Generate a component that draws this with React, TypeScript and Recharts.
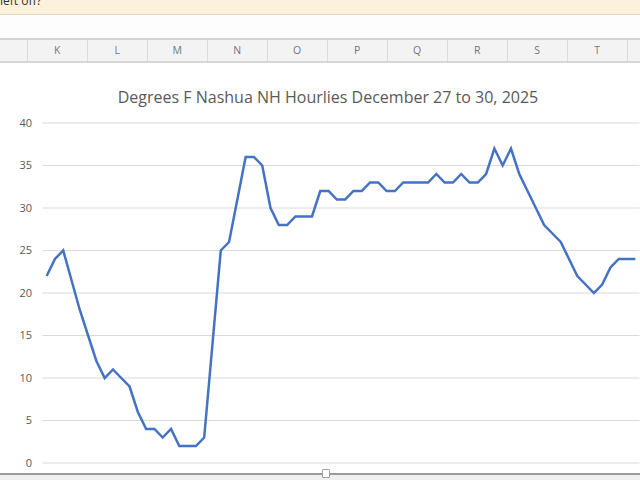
import React from "react";
import { LineChart, Line, XAxis, YAxis, CartesianGrid } from "recharts";

const TITLE = "Degrees F Nashua NH Hourlies December 27 to 30, 2025";
const COLUMNS = ["K", "L", "M", "N", "O", "P", "Q", "R", "S", "T"];
const Y_TICKS = [0, 5, 10, 15, 20, 25, 30, 35, 40];
const TEMPS = [
  22, 24, 25, 21.5, 18, 15, 12, 10, 11, 10, 9, 6, 4, 4, 3, 4, 2, 2, 2, 3,
  14, 25, 26, 31, 36, 36, 35, 30, 28, 28, 29, 29, 29, 32, 32, 31, 31, 32, 32, 33,
  33, 32, 32, 33, 33, 33, 33, 34, 33, 33, 34, 33, 33, 34, 37, 35, 37, 34, 32, 30,
  28, 27, 26, 24, 22, 21, 20, 21, 23, 24, 24, 24,
];

const data = TEMPS.map((t, i) => ({ hour: i, temp: t }));

const FONT = "'Open Sans', 'Noto Sans', sans-serif";

export default function App() {
  return (
    <div
      style={{
        position: "absolute",
        left: 0,
        top: 0,
        width: 640,
        height: 480,
        overflow: "hidden",
        background: "#ffffff",
        fontFamily: FONT,
      }}
    >
      {/* notification banner */}
      <div
        style={{
          position: "absolute",
          left: 0,
          top: 0,
          width: 640,
          height: 14,
          background: "#FBF1DC",
          borderBottom: "1px solid #E2D5BC",
        }}
      />
      <div
        style={{
          position: "absolute",
          left: 0,
          top: -7,
          fontSize: 12,
          lineHeight: "16px",
          color: "#333",
          whiteSpace: "nowrap",
        }}
      >
        left off?
      </div>
      {/* formula/blank strip */}
      <div
        style={{
          position: "absolute",
          left: 0,
          top: 15,
          width: 640,
          height: 24,
          background: "#FDFDFD",
        }}
      />
      {/* column header row */}
      <div
        style={{
          position: "absolute",
          left: 0,
          top: 38,
          width: 640,
          height: 21,
          background: "#F3F3F3",
          borderTop: "2px solid #D4D4D4",
          borderBottom: "2px solid #D6D6D6",
        }}
      />
      {COLUMNS.map((c, i) => (
        <div
          key={c}
          style={{
            position: "absolute",
            left: 26.7 + i * 60,
            top: 40,
            width: 60,
            height: 21,
            borderLeft: "1px solid #DADADA",
            boxSizing: "border-box",
            textAlign: "center",
            lineHeight: "21px",
            fontSize: 10.5,
            color: "#767676",
          }}
        >
          {c}
        </div>
      ))}
      <div
        style={{
          position: "absolute",
          left: 626.7,
          top: 40,
          width: 1,
          height: 21,
          background: "#DADADA",
        }}
      />
      {/* title */}
      <div
        style={{
          position: "absolute",
          left: 0,
          top: 86,
          width: 656,
          textAlign: "center",
          fontSize: 16,
          color: "#595959",
          whiteSpace: "nowrap",
        }}
      >
        {TITLE}
      </div>
      {/* chart */}
      <div style={{ position: "absolute", left: 0, top: 0 }}>
        <LineChart
          width={640}
          height={480}
          data={data}
          margin={{ top: 123, right: 0.5, bottom: 17, left: 0 }}
        >
          <CartesianGrid
            vertical={false}
            stroke="#D9D9D9"
            strokeWidth={1}
          />
          <XAxis
            dataKey="hour"
            type="number"
            domain={[-0.5, 71.5]}
            hide
            height={0}
          />
          <YAxis
            width={42.5}
            domain={[0, 40]}
            ticks={Y_TICKS}
            axisLine={false}
            tickLine={false}
            tickMargin={4.5}
            tick={{ fontSize: 11, fill: "#595959", fontFamily: FONT }}
            interval={0}
          />
          <Line
            type="linear"
            dataKey="temp"
            stroke="#4472C4"
            strokeWidth={2.5}
            dot={false}
            isAnimationActive={false}
          />
        </LineChart>
      </div>
      {/* bottom window border */}
      <div
        style={{
          position: "absolute",
          left: 0,
          top: 473,
          width: 640,
          height: 2,
          background: "#9A9A9A",
        }}
      />
      <div
        style={{
          position: "absolute",
          left: 0,
          top: 475,
          width: 640,
          height: 5,
          background: "#EFEFEF",
        }}
      />
      <div
        style={{
          position: "absolute",
          left: 322,
          top: 469,
          width: 6,
          height: 7,
          background: "#FFFFFF",
          border: "1px solid #A0A0A0",
          borderRadius: 1,
        }}
      />
    </div>
  );
}
